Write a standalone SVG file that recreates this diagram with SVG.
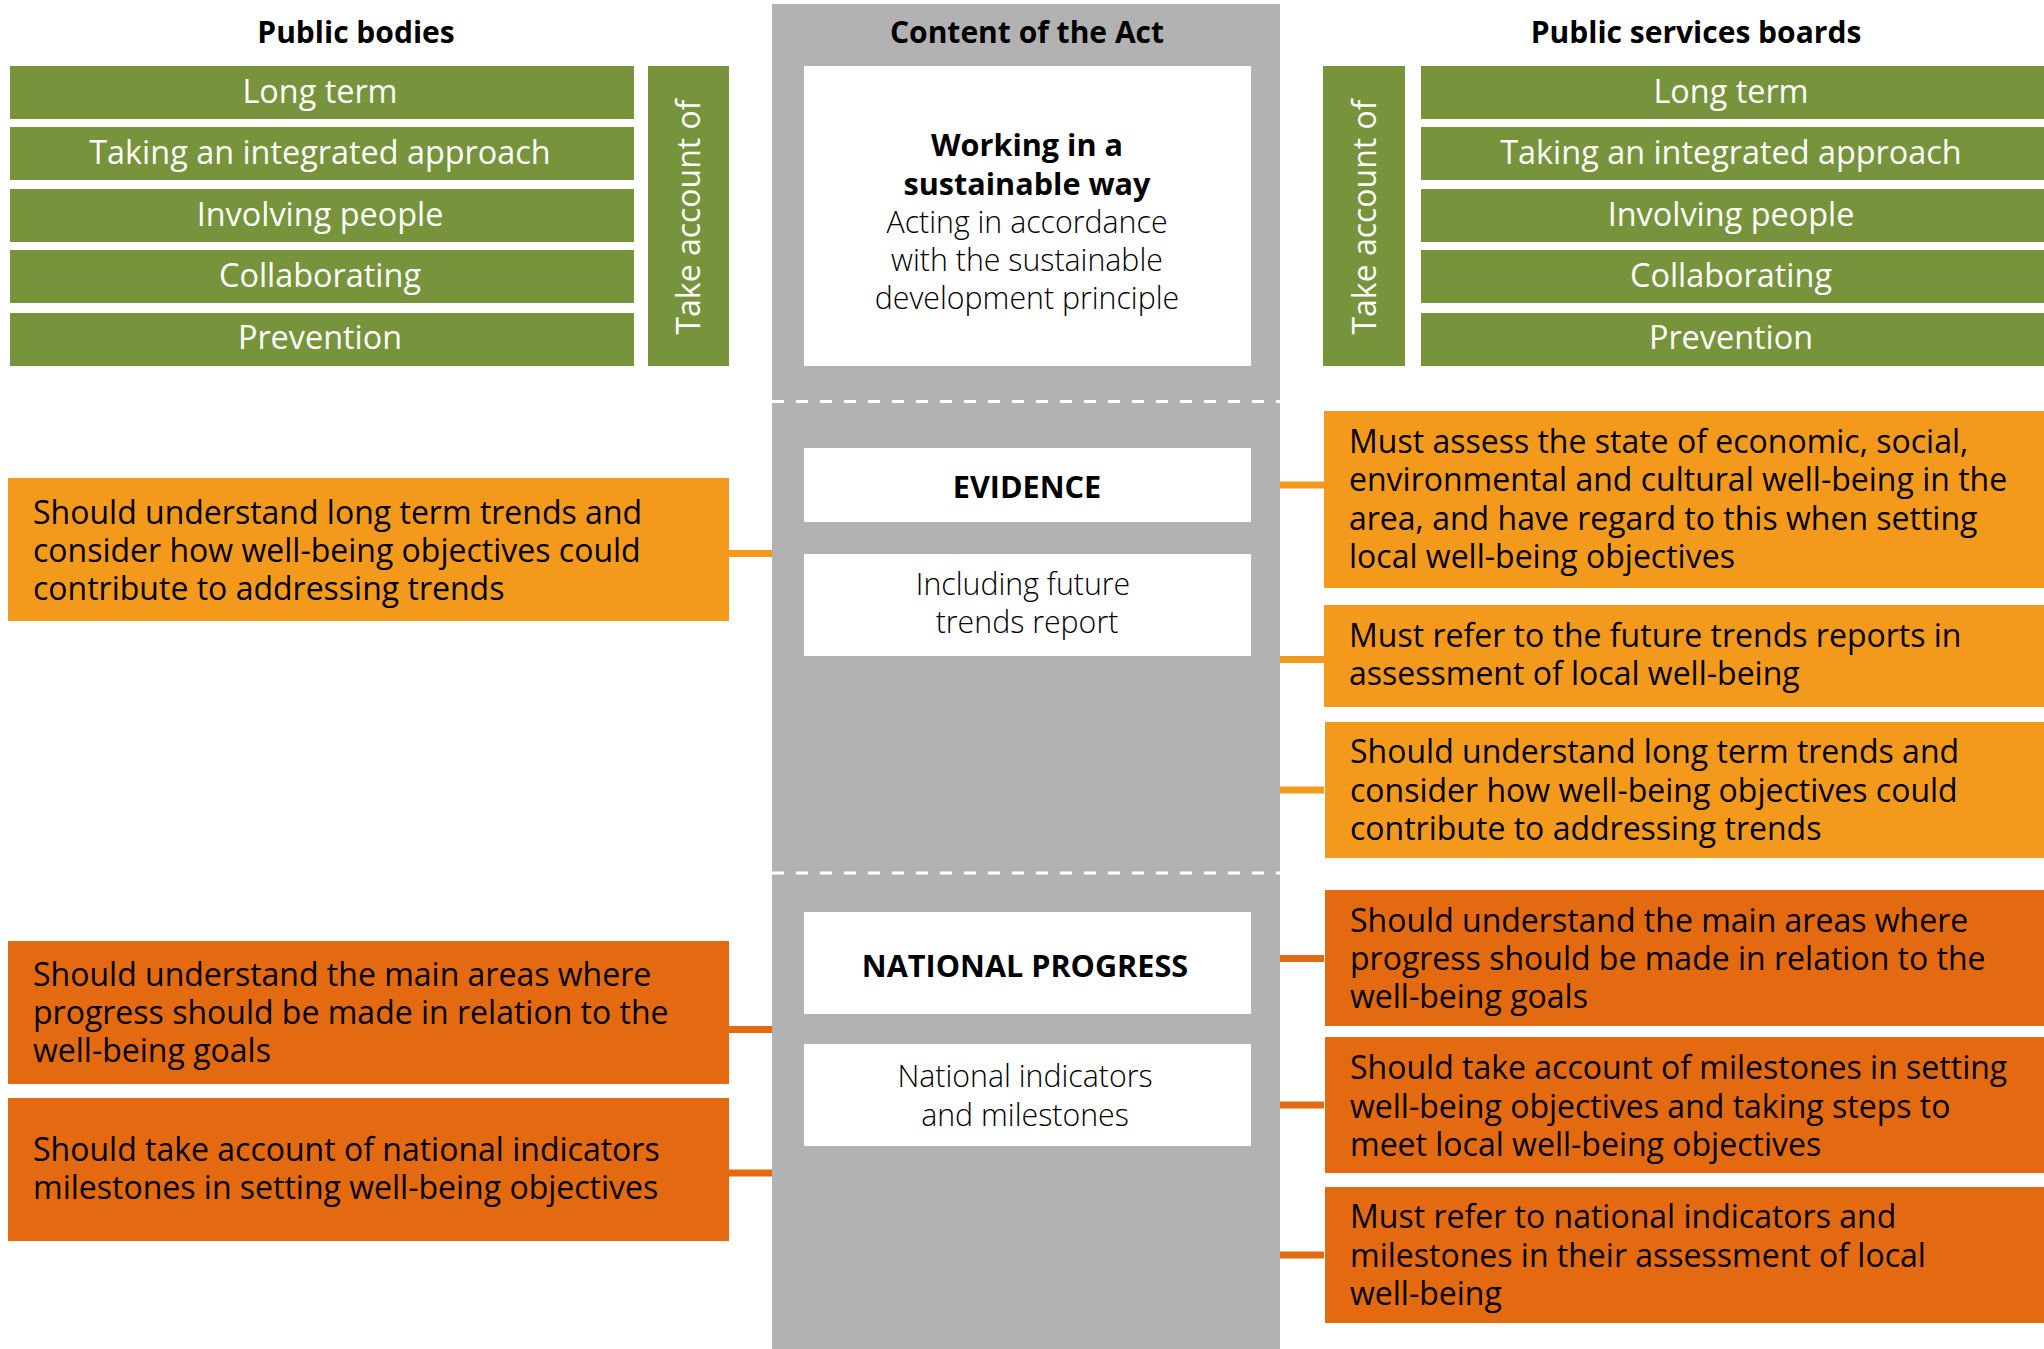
<svg xmlns="http://www.w3.org/2000/svg" width="2044" height="1349" viewBox="0 0 2044 1349">
<style>
text{font-family:"Open Sans","Noto Sans",sans-serif}
.hd{font-size:30px;font-weight:700;fill:#000;text-anchor:middle}
.gb{fill:#77933C}
.gt{font-size:32.4px;fill:#fff;text-anchor:middle}
.vt{font-size:32px;fill:#fff;text-anchor:middle}
.o1{fill:#F39A1D}
.o2{fill:#E36A10}
.ot{font-size:32px;fill:#000}
.wb{fill:#fff}
.ct{font-size:30.3px;font-weight:300;fill:#000;text-anchor:middle}
.cb{font-size:30.6px;font-weight:700;fill:#000;text-anchor:middle}
.c1{stroke:#F39A1D;stroke-width:7}
.c2{stroke:#E36A10;stroke-width:7}
.dash{stroke:#fff;stroke-width:3;stroke-dasharray:12 12}
</style>
<rect width="2044" height="1349" fill="#fff"/>

<g id="center-column">
<rect x="772" y="4" width="508" height="1345" fill="#B2B2B2"/>
<line class="dash" x1="772" y1="401.5" x2="1280" y2="401.5"/>
<line class="dash" x1="772" y1="873" x2="1280" y2="873"/>
<text class="hd" x="1027" y="43">Content of the Act</text>
</g>

<g id="headings">
<text class="hd" x="356" y="43">Public bodies</text>
<text class="hd" x="1696" y="43">Public services boards</text>
</g>

<g id="connectors">
<line class="c1" x1="729" y1="553.5" x2="772" y2="553.5"/>
<line class="c2" x1="729" y1="1029.5" x2="772" y2="1029.5"/>
<line class="c2" x1="729" y1="1173" x2="772" y2="1173"/>
<line class="c1" x1="1280" y1="485" x2="1324" y2="485"/>
<line class="c1" x1="1280" y1="659.5" x2="1324" y2="659.5"/>
<line class="c1" x1="1280" y1="790" x2="1324" y2="790"/>
<line class="c2" x1="1280" y1="958.5" x2="1324" y2="958.5"/>
<line class="c2" x1="1280" y1="1105" x2="1324" y2="1105"/>
<line class="c2" x1="1280" y1="1255" x2="1324" y2="1255"/>
</g>

<g id="left-principles">
<rect class="gb" x="10" y="66" width="624" height="53"/>
<text class="gt" x="320" y="103">Long term</text>
<rect class="gb" x="10" y="127" width="624" height="53"/>
<text class="gt" x="320" y="164">Taking an integrated approach</text>
<rect class="gb" x="10" y="189" width="624" height="53"/>
<text class="gt" x="320" y="226">Involving people</text>
<rect class="gb" x="10" y="250" width="624" height="53"/>
<text class="gt" x="320" y="287">Collaborating</text>
<rect class="gb" x="10" y="313" width="624" height="53"/>
<text class="gt" x="320" y="349">Prevention</text>
</g>

<g id="left-take-account">
<rect class="gb" x="648" y="66" width="81" height="300"/>
<text class="vt" transform="translate(700,217) rotate(-90)">Take account of</text>
</g>

<g id="right-take-account">
<rect class="gb" x="1323" y="66" width="82" height="300"/>
<text class="vt" transform="translate(1375.5,217) rotate(-90)">Take account of</text>
</g>

<g id="right-principles">
<rect class="gb" x="1421" y="66" width="623" height="53"/>
<text class="gt" x="1731" y="103">Long term</text>
<rect class="gb" x="1421" y="127" width="623" height="53"/>
<text class="gt" x="1731" y="164">Taking an integrated approach</text>
<rect class="gb" x="1421" y="189" width="623" height="53"/>
<text class="gt" x="1731" y="226">Involving people</text>
<rect class="gb" x="1421" y="250" width="623" height="53"/>
<text class="gt" x="1731" y="287">Collaborating</text>
<rect class="gb" x="1421" y="313" width="623" height="53"/>
<text class="gt" x="1731" y="349">Prevention</text>
</g>

<g id="sustainable-way">
<rect class="wb" x="804" y="66" width="447" height="300"/>
<text class="cb" x="1027" y="156">Working in a</text>
<text class="cb" x="1027" y="195">sustainable way</text>
<text class="ct" x="1027" y="233">Acting in accordance</text>
<text class="ct" x="1027" y="271">with the sustainable</text>
<text class="ct" x="1027" y="309">development principle</text>
</g>

<g id="evidence">
<rect class="wb" x="804" y="448" width="447" height="74"/>
<text class="cb" x="1027" y="498">EVIDENCE</text>
</g>

<g id="future-trends">
<rect class="wb" x="804" y="554" width="447" height="102"/>
<text class="ct" x="1023" y="595">Including future</text>
<text class="ct" x="1027" y="633">trends report</text>
</g>

<g id="national-progress">
<rect class="wb" x="804" y="912" width="447" height="102"/>
<text class="cb" x="1025" y="977">NATIONAL PROGRESS</text>
</g>

<g id="national-indicators">
<rect class="wb" x="804" y="1044" width="447" height="102"/>
<text class="ct" x="1025" y="1087">National indicators</text>
<text class="ct" x="1025" y="1126">and milestones</text>
</g>

<g id="pb-trends">
<rect class="o1" x="8" y="478" width="721" height="143"/>
<text class="ot" x="33" y="524">Should understand long term trends and</text>
<text class="ot" x="33" y="562">consider how well-being objectives could</text>
<text class="ot" x="33" y="600">contribute to addressing trends</text>
</g>

<g id="pb-progress">
<rect class="o2" x="8" y="941" width="721" height="143"/>
<text class="ot" x="33" y="986">Should understand the main areas where</text>
<text class="ot" x="33" y="1024">progress should be made in relation to the</text>
<text class="ot" x="33" y="1062">well-being goals</text>
</g>

<g id="pb-indicators">
<rect class="o2" x="8" y="1098" width="721" height="143"/>
<text class="ot" x="33" y="1161">Should take account of national indicators</text>
<text class="ot" x="33" y="1199">milestones in setting well-being objectives</text>
</g>

<g id="psb-assess">
<rect class="o1" x="1324" y="411" width="720" height="177"/>
<text class="ot" x="1349" y="453">Must assess the state of economic, social,</text>
<text class="ot" x="1349" y="491">environmental and cultural well-being in the</text>
<text class="ot" x="1349" y="530">area, and have regard to this when setting</text>
<text class="ot" x="1349" y="568">local well-being objectives</text>
</g>

<g id="psb-future-trends">
<rect class="o1" x="1324" y="605" width="720" height="102"/>
<text class="ot" x="1349" y="647">Must refer to the future trends reports in</text>
<text class="ot" x="1349" y="685">assessment of local well-being</text>
</g>

<g id="psb-long-term">
<rect class="o1" x="1325" y="722" width="719" height="136"/>
<text class="ot" x="1350" y="763">Should understand long term trends and</text>
<text class="ot" x="1350" y="802">consider how well-being objectives could</text>
<text class="ot" x="1350" y="840">contribute to addressing trends</text>
</g>

<g id="psb-progress">
<rect class="o2" x="1325" y="890" width="719" height="136"/>
<text class="ot" x="1350" y="932">Should understand the main areas where</text>
<text class="ot" x="1350" y="970">progress should be made in relation to the</text>
<text class="ot" x="1350" y="1008">well-being goals</text>
</g>

<g id="psb-milestones">
<rect class="o2" x="1325" y="1037" width="719" height="136"/>
<text class="ot" x="1350" y="1079">Should take account of milestones in setting</text>
<text class="ot" x="1350" y="1118">well-being objectives and taking steps to</text>
<text class="ot" x="1350" y="1156">meet local well-being objectives</text>
</g>

<g id="psb-indicators">
<rect class="o2" x="1325" y="1187" width="719" height="136"/>
<text class="ot" x="1350" y="1228">Must refer to national indicators and</text>
<text class="ot" x="1350" y="1267">milestones in their assessment of local</text>
<text class="ot" x="1350" y="1305">well-being</text>
</g>
</svg>
